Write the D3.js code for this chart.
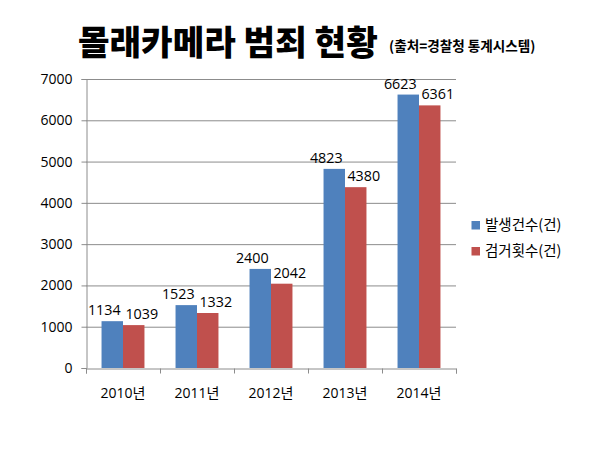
<!DOCTYPE html>
<html><head><meta charset="utf-8">
<script src="https://cdn.jsdelivr.net/npm/d3@7"></script>
<style>body{margin:0;background:#fff}svg{display:block}</style>
</head><body>
<svg id="c" width="610" height="457"></svg>
<script>
const categories = ["2010년","2011년","2012년","2013년","2014년"];
const seriesNames = ["발생건수(건)","검거횟수(건)"];
const occurred = [1134,1523,2400,4823,6623];
const arrested = [1039,1332,2042,4380,6361];
const yTicks = [0,1000,2000,3000,4000,5000,6000,7000];
const colors = ["#4F81BD","#C0504D"];

const font = "'Open Sans','Noto Sans CJK KR',sans-serif";
const kfont = "'Noto Sans CJK KR','Noto Sans',sans-serif";
const svg = d3.select("#c");
const x0 = 86, x1 = 456, yTop = 79, yBot = 368;

const x = d3.scaleBand().domain(categories).range([x0,x1]).paddingInner(0.42).paddingOuter(0.21);
const xs = d3.scaleBand().domain([0,1]).range([0,x.bandwidth()]);
const y = d3.scaleLinear().domain([0,7000]).range([yBot,yTop]);

// gridlines
svg.append("g").selectAll("line").data(yTicks.slice(1)).join("line")
  .attr("x1",x0).attr("x2",x1).attr("y1",d=>y(d)+0.5).attr("y2",d=>y(d)+0.5)
  .attr("stroke","#8c8c8c").attr("stroke-width",1);

// y axis
const ya = svg.append("g").attr("transform",`translate(${x0+0.5},0)`)
  .call(d3.axisLeft(y).tickValues(yTicks).tickSize(5).tickPadding(9).tickFormat(d3.format("d")));
ya.select(".domain").attr("stroke","#8c8c8c");
ya.selectAll(".tick line").attr("stroke","#8c8c8c");
ya.selectAll("text").attr("font-family",font).attr("font-size",14).attr("fill","#000");

// x axis
const xa = svg.append("g").attr("transform",`translate(0,${yBot+0.5})`)
  .call(d3.axisBottom(d3.scaleLinear().domain([0,5]).range([x0,x1])).ticks(5).tickSize(5).tickFormat(""));
xa.select(".domain").attr("stroke","#8c8c8c");
xa.selectAll(".tick line").attr("stroke","#8c8c8c");
svg.append("g").selectAll("text").data(categories).join("text")
  .attr("x",d=>x(d)+x.bandwidth()/2).attr("y",398).attr("text-anchor","middle")
  .attr("font-family",font).attr("font-size",14).text(d=>d);

// bars
const series = [occurred, arrested];
const labelShift = [-8, 8];
series.forEach((vals,si)=>{
  const g = svg.append("g");
  g.selectAll("rect").data(vals).join("rect")
    .attr("x",(d,i)=>x(categories[i])+xs(si)).attr("width",xs.bandwidth())
    .attr("y",d=>y(d)).attr("height",d=>yBot-y(d)).attr("fill",colors[si]);
  g.selectAll("text").data(vals).join("text")
    .attr("x",(d,i)=>x(categories[i])+xs(si)+xs.bandwidth()/2+labelShift[si])
    .attr("y",d=>y(d)-6).attr("text-anchor","middle")
    .attr("font-family",font).attr("font-size",14.3).text(d=>d);
});

// legend
const lg = svg.append("g");
seriesNames.forEach((n,i)=>{
  lg.append("rect").attr("x",471.5).attr("y",221+i*26).attr("width",8.5).attr("height",8.5).attr("fill",colors[i]);
  lg.append("text").attr("x",485).attr("y",230+i*26).attr("font-family",kfont).attr("font-size",14.5).text(n);
});

// title
svg.append("text").attr("x",78).attr("y",55).attr("font-family",kfont).attr("font-weight",900)
  .attr("font-size",34.3).text("몰래카메라 범죄 현황");
svg.append("text").attr("x",389).attr("y",51).attr("font-family",kfont).attr("font-weight",700)
  .attr("font-size",13.6).text("(출처=경찰청 통계시스템)");
</script>
</body></html>
